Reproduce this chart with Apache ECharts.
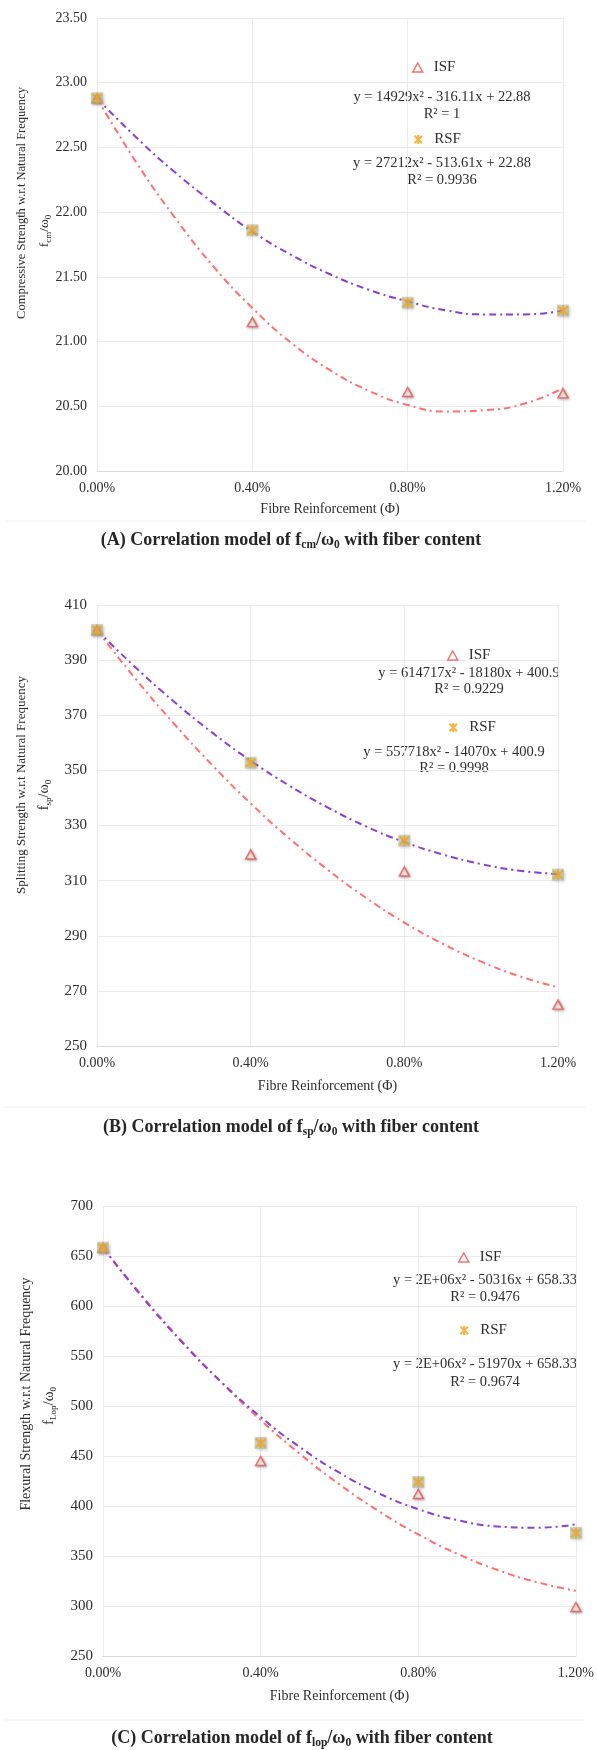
<!DOCTYPE html>
<html>
<head>
<meta charset="utf-8">
<title>Correlation models</title>
<script src="https://cdn.jsdelivr.net/npm/echarts@6/dist/echarts.min.js"></script>
<style>
  html, body { margin: 0; padding: 0; background: #fff; }
  #chart { width: 597px; height: 1750px; }
</style>
</head>
<body>
<div id="chart"></div>
<script>
  // 纤维掺量 (%)
  const fibre = [0, 0.4, 0.8, 1.2]
  // 趋势线采样点 (%)
  const trendX = [0, 0.1, 0.2, 0.3, 0.4, 0.5, 0.6, 0.7, 0.8, 0.9, 1.0, 1.1, 1.2]

  // (A) fcm/ω0
  const isfA = [22.88, 21.15, 20.61, 20.60]
  const rsfA = [22.88, 21.86, 21.30, 21.24]
  const redA = [22.88, 22.39, 21.96, 21.58, 21.26, 20.99, 20.78, 20.62, 20.51, 20.46, 20.47, 20.52, 20.64]
  const purpleA = [22.88, 22.58, 22.31, 22.07, 21.85, 21.67, 21.52, 21.40, 21.31, 21.24, 21.21, 21.21, 21.24]

  // (B) fsp/ω0
  const isfB = [400.9, 319.5, 313.3, 265.0]
  const rsfB = [400.9, 352.8, 324.5, 312.2]
  const redB = [400.9, 383.3, 367.0, 351.9, 338.0, 325.4, 314.0, 303.8, 294.8, 287.1, 280.6, 275.3, 271.3]
  const purpleB = [400.9, 387.4, 375.0, 363.7, 353.5, 344.5, 336.6, 329.7, 324.0, 319.5, 316.0, 313.6, 312.4]

  // (C) flop/ω0
  const isfC = [658.33, 445, 412, 299]
  const rsfC = [658.33, 463, 424, 373]
  const redC = [658.3, 609.8, 564.9, 523.7, 486.0, 452.0, 421.6, 394.8, 371.6, 352.1, 336.2, 323.9, 315.2]
  const purpleC = [658.3, 608.8, 564.0, 524.1, 489.0, 458.7, 433.3, 412.6, 396.8, 385.8, 379.6, 378.3, 381.7]

  // 坐标轴
  const yTicksA = { min: 20, max: 23.5, interval: 0.5, digits: 2, size: 14 }
  const yTicksB = { min: 250, max: 410, interval: 20, digits: 0, size: 15 }
  const yTicksC = { min: 250, max: 700, interval: 50, digits: 0, size: 15 }

  const serif = "'Liberation Serif', 'Times New Roman', serif"
  const textColor = '#2e2e2e'
  const red = '#e8534c'
  const orange = '#f5a21a'
  const starPath = 'path://M0,0L10,10M10,0L0,10M5,-1L5,11'

  const chartInstance = echarts.init(document.getElementById('chart'), null, { renderer: 'canvas' })

  const grids = [
    { left: 97, top: 18, width: 466, height: 453 },
    { left: 97, top: 605, width: 461, height: 441 },
    { left: 103, top: 1206, width: 474, height: 450 }
  ]

  const xAxes = [31, 33, 33].map((gap, i) => ({
    type: 'value',
    gridIndex: i,
    min: 0,
    max: 1.2,
    interval: 0.4,
    name: 'Fibre Reinforcement (Φ)',
    nameLocation: 'middle',
    nameGap: gap,
    nameTextStyle: { fontFamily: serif, fontSize: 14, color: textColor },
    axisLine: { show: true, lineStyle: { color: '#d9d9d9', width: 1 } },
    axisTick: { show: false },
    axisLabel: {
      margin: 10,
      fontFamily: serif,
      fontSize: 14,
      color: textColor,
      formatter: v => v.toFixed(2) + '%'
    },
    splitLine: { show: true, lineStyle: { color: '#ebebeb', width: 1 } }
  }))

  const yAxes = [yTicksA, yTicksB, yTicksC].map((t, i) => ({
    type: 'value',
    gridIndex: i,
    min: t.min,
    max: t.max,
    interval: t.interval,
    axisLine: { show: false },
    axisTick: { show: false },
    axisLabel: {
      margin: 10,
      fontFamily: serif,
      fontSize: t.size,
      color: textColor,
      formatter: v => v.toFixed(t.digits)
    },
    splitLine: { show: true, lineStyle: { color: '#ebebeb', width: 1 } }
  }))

  const shadow = { shadowBlur: 3, shadowColor: 'rgba(0,0,0,0.35)', shadowOffsetX: 1, shadowOffsetY: 1 }

  // 每个子图的散点和趋势线
  function panelSeries(i, isf, rsf, redFit, purpleFit) {
    const pts = arr => fibre.map((x, k) => [x, arr[k]])
    const line = arr => trendX.map((x, k) => [x, arr[k]])
    return [
      {
        name: 'ISF fit', type: 'line', xAxisIndex: i, yAxisIndex: i,
        data: line(redFit), smooth: true, showSymbol: false, silent: true, z: 2,
        lineStyle: { color: '#ff6f6f', width: 2, type: [7, 4, 2, 4] }
      },
      {
        name: 'RSF fit', type: 'line', xAxisIndex: i, yAxisIndex: i,
        data: line(purpleFit), smooth: true, showSymbol: false, silent: true, z: 2,
        lineStyle: { color: '#8a3fd0', width: 2, type: [7, 4, 2, 4] }
      },
      {
        name: 'ISF', type: 'scatter', xAxisIndex: i, yAxisIndex: i,
        data: pts(isf), symbol: 'triangle', symbolSize: [10, 9], z: 3,
        itemStyle: Object.assign({ color: '#fff', borderColor: red, borderWidth: 1.5 }, shadow)
      },
      {
        name: 'RSF bg', type: 'scatter', xAxisIndex: i, yAxisIndex: i,
        data: pts(rsf), symbol: 'rect', symbolSize: 12, silent: true, z: 3,
        itemStyle: Object.assign({ color: 'rgba(175,188,160,0.75)' }, shadow)
      },
      {
        name: 'RSF', type: 'scatter', xAxisIndex: i, yAxisIndex: i,
        data: pts(rsf), symbol: starPath, symbolSize: 10, z: 4,
        itemStyle: { color: 'none', borderColor: orange, borderWidth: 2 }
      }
    ]
  }

  function legendAt(name, left, top) {
    const icon = name === 'ISF'
      ? { icon: 'triangle', itemStyle: { color: '#fff', borderColor: red, borderWidth: 1.5 } }
      : { icon: starPath, itemStyle: { color: 'none', borderColor: orange, borderWidth: 2.2 } }
    return {
      data: [Object.assign({ name: name }, icon)],
      left: left,
      top: top,
      padding: 0,
      itemWidth: 10,
      itemHeight: 9,
      selectedMode: false,
      textStyle: { fontFamily: serif, fontSize: 15, color: textColor, padding: [0, 0, 0, 6] }
    }
  }

  function eqText(str, x, y) {
    return {
      type: 'text', x: x, y: y, silent: true,
      style: { text: str, font: '14.5px ' + serif, fill: textColor, align: 'center', verticalAlign: 'middle' }
    }
  }

  // 竖排的 y 轴标题 (两行)
  function yTitle(str, sub, size, x1, y1, x2, y2) {
    return [
      {
        type: 'text', x: x1, y: y1, rotation: Math.PI / 2, silent: true,
        style: { text: str, font: size + 'px ' + serif, fill: textColor, align: 'center', verticalAlign: 'middle' }
      },
      {
        type: 'text', x: x2, y: y2, rotation: Math.PI / 2, silent: true,
        style: {
          text: '{i|f}{s|' + sub + '}{i|/ω}{s|0}',
          align: 'center', verticalAlign: 'middle',
          rich: {
            i: { fontFamily: serif, fontSize: size + 1, fill: textColor, lineHeight: 18 },
            s: { fontFamily: serif, fontSize: 9, fill: textColor, lineHeight: 10, verticalAlign: 'bottom' }
          }
        }
      }
    ]
  }

  // 子图标题
  function caption(letter, sub, x, y) {
    return {
      type: 'text', x: x, y: y, silent: true,
      style: {
        text: '{b|(' + letter + ') Correlation model of f}{s|' + sub + '}{b|/ω}{s|0}{b| with fiber content}',
        align: 'center', verticalAlign: 'middle',
        rich: {
          b: { fontFamily: serif, fontSize: 18, fontWeight: 'bold', fill: '#262626', lineHeight: 22 },
          s: { fontFamily: serif, fontSize: 11.5, fontWeight: 'bold', fill: '#262626', lineHeight: 14, verticalAlign: 'bottom' }
        }
      }
    }
  }

  function separator(y) {
    return {
      type: 'line', silent: true,
      shape: { x1: 5, y1: y, x2: 585, y2: y },
      style: { stroke: '#eeeeee', lineWidth: 1 }
    }
  }

  const option = {
    animation: false,
    backgroundColor: '#fff',
    legend: [
      legendAt('ISF', 412, 60), legendAt('RSF', 412, 132),
      legendAt('ISF', 447, 648), legendAt('RSF', 447, 720),
      legendAt('ISF', 458, 1250), legendAt('RSF', 458, 1323)
    ],
    grid: grids,
    xAxis: xAxes,
    yAxis: yAxes,
    series: [].concat(
      panelSeries(0, isfA, rsfA, redA, purpleA),
      panelSeries(1, isfB, rsfB, redB, purpleB),
      panelSeries(2, isfC, rsfC, redC, purpleC)
    ),
    graphic: [].concat(
      [
        eqText('y = 14929x² - 316.11x + 22.88', 442, 97),
        eqText('R² = 1', 442, 114),
        eqText('y = 27212x² - 513.61x + 22.88', 442, 163),
        eqText('R² = 0.9936', 442, 180),
        eqText('y = 614717x² - 18180x + 400.9', 469, 673),
        eqText('R² = 0.9229', 469, 689),
        eqText('y = 557718x² - 14070x + 400.9', 454, 752),
        eqText('R² = 0.9998', 454, 768),
        eqText('y = 2E+06x² - 50316x + 658.33', 485, 1280),
        eqText('R² = 0.9476', 485, 1297),
        eqText('y = 2E+06x² - 51970x + 658.33', 485, 1364),
        eqText('R² = 0.9674', 485, 1382),
        separator(521), separator(1107), separator(1720),
        caption('A', 'cm', 291, 540),
        caption('B', 'sp', 291, 1127),
        caption('C', 'lop', 302, 1738)
      ],
      yTitle('Compressive Strength w.r.t Natural Frequency', 'cm', 12.5, 22, 203, 44, 231),
      yTitle('Splitting Strength w.r.t Natural Frequency', 'sp', 13, 22, 785, 44, 795),
      yTitle('Flexural Strength w.r.t Natural Frequency', 'Lop', 14, 26, 1394, 49, 1406)
    )
  }
  chartInstance.setOption(option)
</script>
</body>
</html>
